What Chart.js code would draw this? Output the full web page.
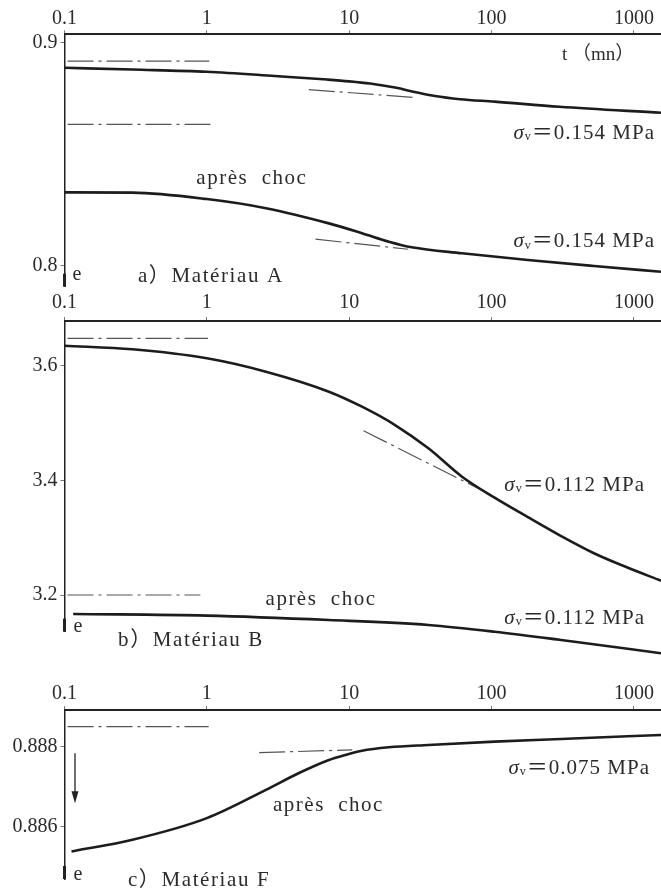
<!DOCTYPE html>
<html>
<head>
<meta charset="utf-8">
<script src="https://cdn.jsdelivr.net/npm/chart.js@4.4.0/dist/chart.umd.min.js"></script>
<style>
html, body { margin: 0; padding: 0; background: #fff; }
#wrap { position: relative; width: 661px; height: 894px; }
#wrap canvas { position: absolute; left: 0; top: 0; }
</style>
</head>
<body>
<div id="wrap">
<canvas id="chartA" width="661" height="894"></canvas>
<canvas id="chartB" width="661" height="894"></canvas>
<canvas id="chartC" width="661" height="894"></canvas>
</div>
<script>
// time axis (mn), log scale, shared by the three panels
const tTicks = [0.1, 1, 10, 100, 1000];
const tMin = 0.1;
const tMax = 1550;

// a) Materiau A
const tA1 = [0.1, 0.3, 1, 3, 7, 10, 14, 21, 30, 40, 60, 105, 300, 1550];
const eA1 = [0.8889, 0.8881, 0.8871, 0.8852, 0.8836, 0.8828, 0.8818, 0.8800, 0.8778, 0.8762, 0.8748, 0.8737, 0.8714, 0.8687];
const tA2 = [0.1, 0.3, 1, 2.6, 7.2, 12.3, 19, 27.5, 62, 180, 524, 1550];
const eA2 = [0.8330, 0.8329, 0.8300, 0.8259, 0.8191, 0.8147, 0.8109, 0.8084, 0.8057, 0.8027, 0.8000, 0.7974];
const refA1 = { t: [0.105, 1.04], e: [0.8919, 0.8919] };
const refA2 = { t: [0.105, 1.06], e: [0.8635, 0.8635] };
const tanA1 = { t: [5.2, 29.7], e: [0.8791, 0.8755] };
const tanA2 = { t: [5.8, 26], e: [0.8120, 0.8075] };
const eTicksA = [0.8, 0.9];

// b) Materiau B
const tB1 = [0.1, 0.3, 1, 2.6, 7.2, 12.3, 21, 36, 62, 105, 180, 308, 524, 900, 1550];
const eB1 = [3.6355, 3.6292, 3.6134, 3.5900, 3.5551, 3.5289, 3.4969, 3.4562, 3.4066, 3.3700, 3.3360, 3.3030, 3.2730, 3.2480, 3.2250];
const tB2 = [0.115, 1, 7.2, 36, 105, 308, 1550];
const eB2 = [3.1668, 3.1640, 3.1563, 3.1476, 3.1359, 3.1214, 3.0982];
const refB1 = { t: [0.105, 1.02], e: [3.6484, 3.6484] };
const refB2 = { t: [0.105, 0.9], e: [3.2, 3.2] };
const tanB = { t: [12.6, 105], e: [3.4870, 3.3717] };
const eTicksB = [3.2, 3.4, 3.6];

// c) Materiau F
const tC = [0.112, 0.3, 1, 2.6, 4.4, 7.2, 9.4, 12.3, 19, 36, 105, 308, 1550];
const eC = [0.885375, 0.885668, 0.886210, 0.886918, 0.887335, 0.887668, 0.887793, 0.887900, 0.887985, 0.888043, 0.888125, 0.888193, 0.888293];
const refC1 = { t: [0.105, 1.03], e: [0.8885, 0.8885] };
const refC2 = { t: [2.33, 10.5], e: [0.88785, 0.88792] };
const eTicksC = [0.886, 0.888];

const serif = '"Liberation Serif", "Noto Sans CJK SC", serif';
const ink = '#2b2b2b';

function solid(ts, es, extra) {
    return Object.assign({
        data: ts.map((t, i) => ({ x: t, y: es[i] })),
        borderColor: '#1c1c1c',
        borderWidth: 2.6,
        cubicInterpolationMode: 'monotone',
        pointRadius: 0
    }, extra || {});
}

function dashdot(ref) {
    return {
        data: ref.t.map((t, i) => ({ x: t, y: ref.e[i] })),
        borderColor: '#555',
        borderWidth: 1.2,
        borderDash: [26, 5, 3, 5],
        pointRadius: 0
    };
}

function drawNote(ctx, n, px, py) {
    var parts;
    if (n.text.indexOf('σv') === 0) {
        parts = [
            { s: 'σ', f: 'italic 21px ' + serif, dy: 0 },
            { s: 'v', f: '12px ' + serif, dy: 4 },
            { s: n.text.slice(2), f: '21px ' + serif, dy: 0 }
        ];
    } else {
        parts = [{ s: n.text, f: (n.size || 21) + 'px ' + serif, dy: 0 }];
    }
    ctx.letterSpacing = (n.sp || 0) + 'px';
    var w = 0;
    parts.forEach(p => { ctx.font = p.f; p.w = ctx.measureText(p.s).width; w += p.w; });
    var cx = n.align === 'right' ? px - w : (n.align === 'center' ? px - w / 2 : px);
    ctx.textAlign = 'left';
    parts.forEach(p => { ctx.font = p.f; ctx.fillText(p.s, cx, py + p.dy); cx += p.w; });
    ctx.letterSpacing = '0px';
}

const notesPlugin = {
    id: 'notes',
    afterDatasetsDraw(chart, args, opts) {
        const ctx = chart.ctx;
        const x = chart.scales.x, y = chart.scales.y;
        ctx.save();
        ctx.fillStyle = ink;
        ctx.textBaseline = 'middle';
        (opts.items || []).forEach(n => drawNote(ctx, n, x.getPixelForValue(n.t), y.getPixelForValue(n.e)));
        // heavier foot of the e axis
        ctx.strokeStyle = '#222';
        ctx.lineWidth = 3;
        ctx.beginPath();
        ctx.moveTo(x.left, chart.chartArea.bottom - 13);
        ctx.lineTo(x.left, chart.chartArea.bottom);
        ctx.stroke();
        if (opts.arrow) {
            const ax = x.getPixelForValue(opts.arrow.t);
            const y0 = y.getPixelForValue(opts.arrow.from), y1 = y.getPixelForValue(opts.arrow.to);
            ctx.lineWidth = 1.3;
            ctx.beginPath();
            ctx.moveTo(ax, y0);
            ctx.lineTo(ax, y1 - 8);
            ctx.stroke();
            ctx.fillStyle = '#222';
            ctx.beginPath();
            ctx.moveTo(ax - 3.5, y1 - 12);
            ctx.lineTo(ax + 3.5, y1 - 12);
            ctx.lineTo(ax, y1);
            ctx.closePath();
            ctx.fill();
        }
        ctx.restore();
    }
};

function panel(id, p) {
    return new Chart(document.getElementById(id), {
        type: 'line',
        data: { datasets: p.datasets },
        options: {
            responsive: false,
            devicePixelRatio: 1,
            animation: false,
            events: [],
            layout: { padding: { top: p.top - 30, bottom: 894 - p.bottom, left: 0, right: 0 } },
            plugins: {
                legend: { display: false },
                tooltip: { enabled: false },
                notes: { items: p.notes, arrow: p.arrow }
            },
            scales: {
                x: {
                    type: 'logarithmic',
                    position: 'top',
                    min: tMin,
                    max: tMax,
                    afterBuildTicks: s => { s.ticks = tTicks.map(v => ({ value: v })); },
                    afterFit: s => { s.height = 30; },
                    ticks: {
                        font: { family: serif, size: 20 },
                        color: ink,
                        padding: p.xPad,
                        maxRotation: 0,
                        autoSkip: false,
                        callback: v => String(v)
                    },
                    grid: { drawOnChartArea: false, tickLength: 4, color: '#777' },
                    border: { color: '#222', width: 2 }
                },
                y: {
                    type: 'linear',
                    min: p.yMin,
                    max: p.yMax,
                    afterBuildTicks: s => { s.ticks = p.yTicks.map(v => ({ value: v })); },
                    afterFit: s => { s.width = 64.5; },
                    ticks: {
                        font: { family: serif, size: 20 },
                        color: ink,
                        padding: 3,
                        callback: v => v.toFixed(p.dec)
                    },
                    grid: { drawOnChartArea: false, tickLength: 4, color: '#777' },
                    border: { color: '#222', width: 1.5 }
                }
            }
        },
        plugins: [notesPlugin]
    });
}

panel('chartA', {
    top: 34.3, bottom: 286.7, yMin: 0.7907, yMax: 0.9039, yTicks: eTicksA, dec: 1, xPad: 0,
    datasets: [solid(tA1, eA1), solid(tA2, eA2), dashdot(refA1), dashdot(refA2), dashdot(tanA1), dashdot(tanA2)],
    notes: [
        { text: 't （mn）', t: 560, e: 0.8946, align: 'center', size: 19 },
        { text: 'σv＝0.154 MPa', t: 1407, e: 0.8596, align: 'right', sp: 1 },
        { text: 'σv＝0.154 MPa', t: 1407, e: 0.8109, align: 'right', sp: 1 },
        { text: 'après  choc', t: 2.07, e: 0.8393, align: 'center', sp: 1.5 },
        { text: 'e', t: 0.1224, e: 0.7960, align: 'center', size: 20 },
        { text: 'a）Matériau A', t: 0.328, e: 0.7951, align: 'left', sp: 1.6 }
    ]
});

panel('chartB', {
    top: 321, bottom: 631.7, yMin: 3.1359, yMax: 3.6786, yTicks: eTicksB, dec: 1, xPad: 2,
    datasets: [solid(tB1, eB1), solid(tB2, eB2, { clip: false }), dashdot(refB1), dashdot(refB2), dashdot(tanB)],
    notes: [
        { text: 'σv＝0.112 MPa', t: 1197, e: 3.3921, align: 'right', sp: 1 },
        { text: 'σv＝0.112 MPa', t: 1197, e: 3.1593, align: 'right', sp: 1 },
        { text: 'après  choc', t: 6.34, e: 3.1913, align: 'center', sp: 1.5 },
        { text: 'e', t: 0.1245, e: 3.1446, align: 'center', size: 20 },
        { text: 'b）Matériau B', t: 0.238, e: 3.1214, align: 'left', sp: 1.6 }
    ]
});

panel('chartC', {
    top: 710, bottom: 879.3, yMin: 0.884686, yMax: 0.888918, yTicks: eTicksC, dec: 3, xPad: 0,
    datasets: [solid(tC, eC), dashdot(refC1), dashdot(refC2)],
    notes: [
        { text: 'σv＝0.075 MPa', t: 1297, e: 0.88746, align: 'right', sp: 1 },
        { text: 'après  choc', t: 2.915, e: 0.886518, align: 'left', sp: 1.5 },
        { text: 'e', t: 0.1245, e: 0.884792, align: 'center', size: 20 },
        { text: 'c）Matériau F', t: 0.279, e: 0.884642, align: 'left', sp: 1.6 }
    ],
    arrow: { t: 0.1185, from: 0.887834, to: 0.886585 }
});
</script>
</body>
</html>
